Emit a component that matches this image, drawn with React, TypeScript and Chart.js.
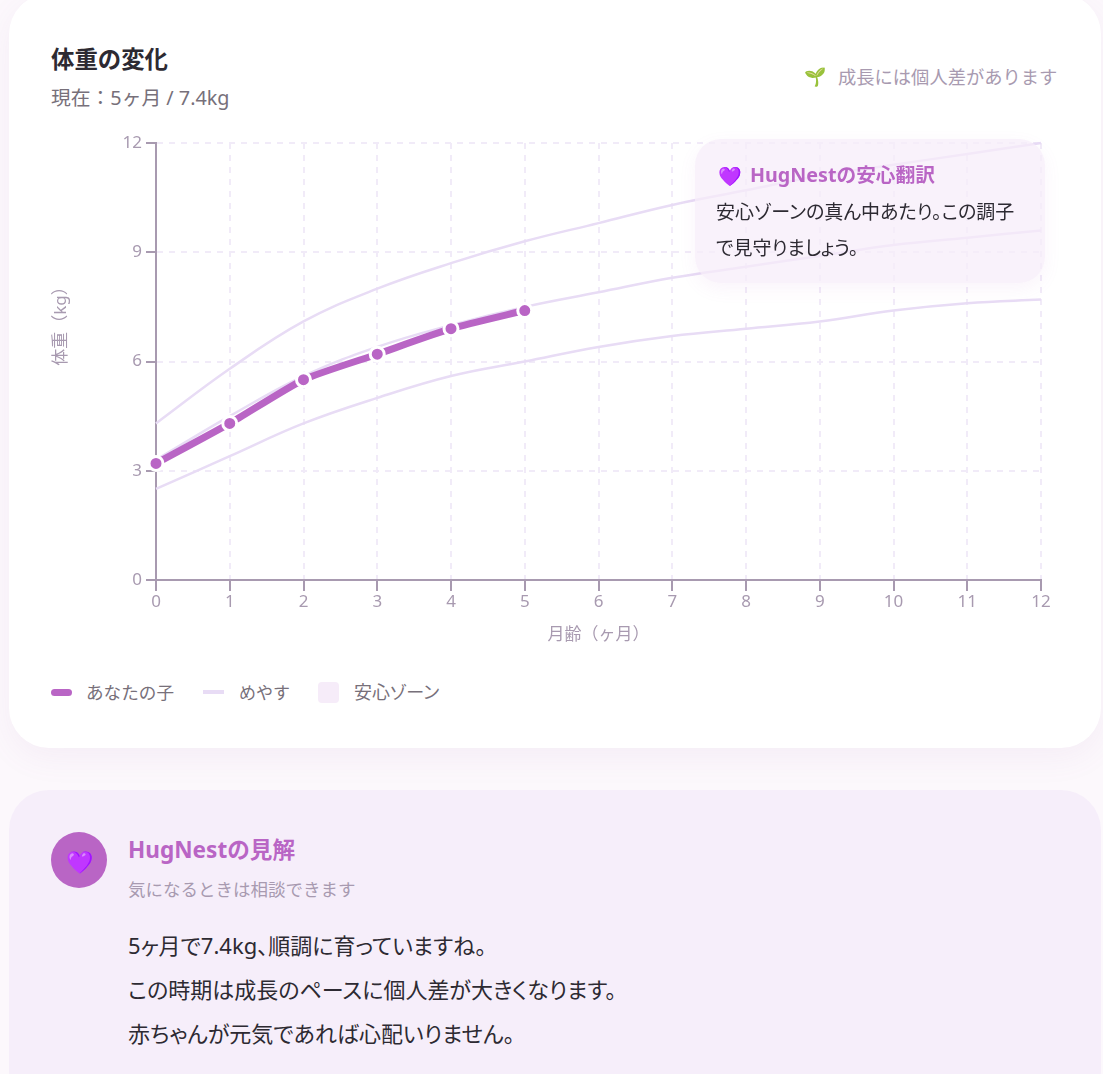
import React, { useEffect, useRef } from "react";
import { Chart, registerables } from "chart.js";

Chart.register(...registerables);

const months = ["0", "1", "2", "3", "4", "5", "6", "7", "8", "9", "10", "11", "12"];
const childWeight = [3.2, 4.3, 5.5, 6.2, 6.9, 7.4];
const guideUpper = [4.3, 5.8, 7.1, 8.0, 8.7, 9.3, 9.8, 10.3, 10.7, 11.1, 11.4, 11.7, 12.0];
const guideMiddle = [3.3, 4.5, 5.6, 6.4, 7.0, 7.5, 7.9, 8.3, 8.6, 8.9, 9.2, 9.4, 9.6];
const guideLower = [2.5, 3.4, 4.3, 5.0, 5.6, 6.0, 6.4, 6.7, 6.9, 7.1, 7.4, 7.6, 7.7];

const FONT = '"Noto Sans", "Noto Sans CJK JP", sans-serif';
const ACCENT = "#b965c5";
const GUIDE = "#e8dcf5";
const AXIS = "#a89ab0";
const GRID = "#f1ebf8";
const INK = "#2d2a32";
const GRAY = "#77707a";

const abs = (left: number, centerY: number, size: number, color: string, extra: React.CSSProperties = {}): React.CSSProperties => ({
  position: "absolute",
  left,
  top: centerY,
  transform: "translateY(-50%)",
  fontSize: size,
  color,
  lineHeight: 1.2,
  whiteSpace: "nowrap",
  ...extra,
});
const palt: React.CSSProperties = { fontFeatureSettings: '"palt"' };
const heartTint: React.CSSProperties = { filter: "saturate(1.8) hue-rotate(-12deg)" };

export default function App() {
  const ref = useRef<HTMLCanvasElement>(null);

  useEffect(() => {
    document.body.style.margin = "0";
    document.documentElement.style.overflow = "hidden";
    const guideStyle = {
      borderColor: GUIDE,
      borderWidth: 2.5,
      pointRadius: 0,
      tension: 0.4,
      fill: false,
      clip: false as const,
    };
    const chart = new Chart(ref.current!, {
      type: "line",
      data: {
        labels: months,
        datasets: [
          {
            label: "あなたの子",
            data: childWeight,
            borderColor: ACCENT,
            backgroundColor: ACCENT,
            borderWidth: 7,
            pointRadius: 7,
            pointBorderWidth: 3,
            pointBackgroundColor: ACCENT,
            pointBorderColor: "#ffffff",
            tension: 0.2,
            clip: false as const,
          },
          { label: "めやす上", data: guideUpper, ...guideStyle },
          { label: "めやす", data: guideMiddle, ...guideStyle },
          { label: "めやす下", data: guideLower, ...guideStyle },
        ],
      },
      options: {
        animation: false,
        responsive: false,
        maintainAspectRatio: false,
        layout: { padding: { top: 22, right: 16, left: 0, bottom: 0 } },
        plugins: { legend: { display: false }, tooltip: { enabled: false } },
        scales: {
          x: {
            offset: false,
            afterFit: (s: any) => { s.height = 71; },
            grid: { color: GRID, lineWidth: 2, tickColor: AXIS, tickLength: 11, tickWidth: 2, tickBorderDash: [] },
            border: { color: AXIS, width: 2, dash: [6, 6] },
            ticks: { color: AXIS, font: { size: 17, family: FONT }, padding: 1, maxRotation: 0, autoSkip: false },
            title: { display: true, text: "月齢（ヶ月）", color: AXIS, font: { size: 17, family: FONT }, padding: { top: 0, bottom: 6 } },
          },
          y: {
            min: 0,
            max: 12,
            afterFit: (s: any) => { s.width = 105; },
            grid: { color: GRID, lineWidth: 2, tickColor: AXIS, tickLength: 10, tickWidth: 2, tickBorderDash: [] },
            border: { color: AXIS, width: 2, dash: [6, 6] },
            ticks: { color: AXIS, stepSize: 3, font: { size: 17, family: FONT }, padding: 4 },
          },
        },
      },
    } as any);
    return () => chart.destroy();
  }, []);

  return (
    <div style={{ position: "absolute", left: 0, top: 0, width: 1103, height: 1074, overflow: "hidden", background: "#fcf8fc", fontFamily: FONT }}>
      <div style={{ position: "absolute", left: 9, top: -6, width: 1092, height: 754, background: "#fff", borderRadius: 40, boxShadow: "0 10px 32px rgba(150,100,170,0.07)" }} />
      <div style={{ position: "absolute", left: 9, top: 790, width: 1092, height: 320, background: "#f6eefa", borderRadius: 40 }} />

      <div style={abs(51, 59, 23.4, INK, { fontWeight: 700 })}>体重の変化</div>
      <div style={abs(51, 98, 19.8, GRAY)}>現在：5ヶ月 / 7.4kg</div>
      <div style={abs(804, 77, 18, AXIS)}>🌱</div>
      <div style={abs(838, 77, 18.3, AXIS)}>成長には個人差があります</div>

      <canvas ref={ref} width={1006} height={530} style={{ position: "absolute", left: 51, top: 121, width: 1006, height: 530 }} />
      <div style={abs(60, 322, 17, AXIS, { transform: "translate(-50%,-50%) rotate(-90deg)" })}>体重（kg）</div>

      <div style={{ position: "absolute", left: 695, top: 139, width: 350, height: 144, borderRadius: 26, background: "rgba(246,237,250,0.72)", boxShadow: "0 6px 18px rgba(185,101,197,0.07)" }} />
      <div style={abs(718, 176, 19, ACCENT, heartTint)}>💜</div>
      <div style={abs(750, 175, 19.7, ACCENT, { fontWeight: 700 })}>HugNestの安心翻訳</div>
      <div style={abs(716, 212, 19, INK, palt)}>安心ゾーンの真ん中あたり。この調子</div>
      <div style={abs(716, 248, 19, INK, palt)}>で見守りましょう。</div>

      <div style={{ position: "absolute", left: 51, top: 689, width: 21, height: 7, borderRadius: 4, background: ACCENT }} />
      <div style={abs(86, 693, 17.6, GRAY)}>あなたの子</div>
      <div style={{ position: "absolute", left: 203, top: 690, width: 21, height: 4, background: GUIDE }} />
      <div style={abs(239, 693, 17, GRAY)}>めやす</div>
      <div style={{ position: "absolute", left: 318, top: 682, width: 21, height: 21, borderRadius: 4, background: "#f6ecf9" }} />
      <div style={abs(354, 693, 18, GRAY, palt)}>安心ゾーン</div>

      <div style={{ position: "absolute", left: 51, top: 832, width: 56, height: 56, borderRadius: "50%", background: ACCENT }} />
      <div style={abs(66, 861, 22, "#7b2cf0", heartTint)}>💜</div>
      <div style={abs(128, 850, 22.6, ACCENT, { fontWeight: 700 })}>HugNestの見解</div>
      <div style={abs(128, 889, 17.5, AXIS)}>気になるときは相談できます</div>
      <div style={abs(128, 945, 22, INK, palt)}>5ヶ月で7.4kg、順調に育っていますね。</div>
      <div style={abs(128, 989, 22, INK, palt)}>この時期は成長のペースに個人差が大きくなります。</div>
      <div style={abs(128, 1033, 22, INK, palt)}>赤ちゃんが元気であれば心配いりません。</div>
    </div>
  );
}
